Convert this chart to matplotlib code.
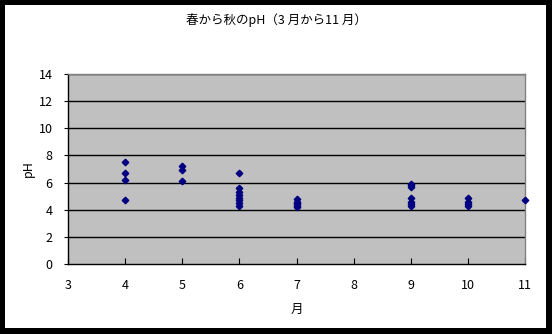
import matplotlib.pyplot as plt
from matplotlib.patches import Rectangle

plt.rcParams['font.family'] = ['Noto Sans CJK JP', 'DejaVu Sans']

# pH readings per month
apr = [7.5, 6.7, 6.2, 4.7]
may = [7.2, 6.9, 6.1]
jun = [6.7, 5.6, 5.3, 5.1, 4.9, 4.7, 4.5, 4.3]
jul = [4.8, 4.6, 4.5, 4.4, 4.3, 4.2]
sep = [5.9, 5.8, 5.7, 4.9, 4.6, 4.4, 4.3]
octo = [4.9, 4.6, 4.4, 4.3]
nov = [4.7]

months = [4, 5, 6, 7, 9, 10, 11]
values = [apr, may, jun, jul, sep, octo, nov]

x = []
y = []
for m, vals in zip(months, values):
    for v in vals:
        x.append(m)
        y.append(v)

fig = plt.figure(figsize=(5.52, 3.34), dpi=100, facecolor='black')
fig.add_artist(Rectangle((5 / 552, 6 / 334), 541 / 552, 323 / 334,
                         transform=fig.transFigure, facecolor='white',
                         edgecolor='none', zorder=-5))

ax = fig.add_axes([68 / 552, 70 / 334, 457 / 552, 190 / 334])
ax.set_facecolor('#c0c0c0')
ax.plot(x, y, linestyle='none', marker='D', markersize=3.3,
        color='#000080', clip_on=False, zorder=5)

ax.set_xlim(3, 11)
ax.set_ylim(0, 14)
ax.set_xticks(range(3, 12))
ax.set_yticks(range(0, 15, 2))
for t in range(2, 15, 2):
    ax.axhline(t, color='black', linewidth=1.0, zorder=1)

for s in ['top', 'right']:
    ax.spines[s].set_color('#808080')
    ax.spines[s].set_linewidth(1.0)
for s in ['left', 'bottom']:
    ax.spines[s].set_color('black')
    ax.spines[s].set_linewidth(1.0)

ax.tick_params(axis='x', direction='in', length=4, pad=11, labelsize=9)
ax.tick_params(axis='y', direction='out', length=3, pad=8, labelsize=9)

ax.set_xlabel('月', fontsize=9, labelpad=8)
ax.set_ylabel('pH', fontsize=9, labelpad=3)
fig.text(0.5, 1 - 20 / 334, '春から秋のpH（3 月から11 月）', ha='center', va='center',
         fontsize=9)

fig.savefig('out.png', dpi=100, facecolor=fig.get_facecolor())
